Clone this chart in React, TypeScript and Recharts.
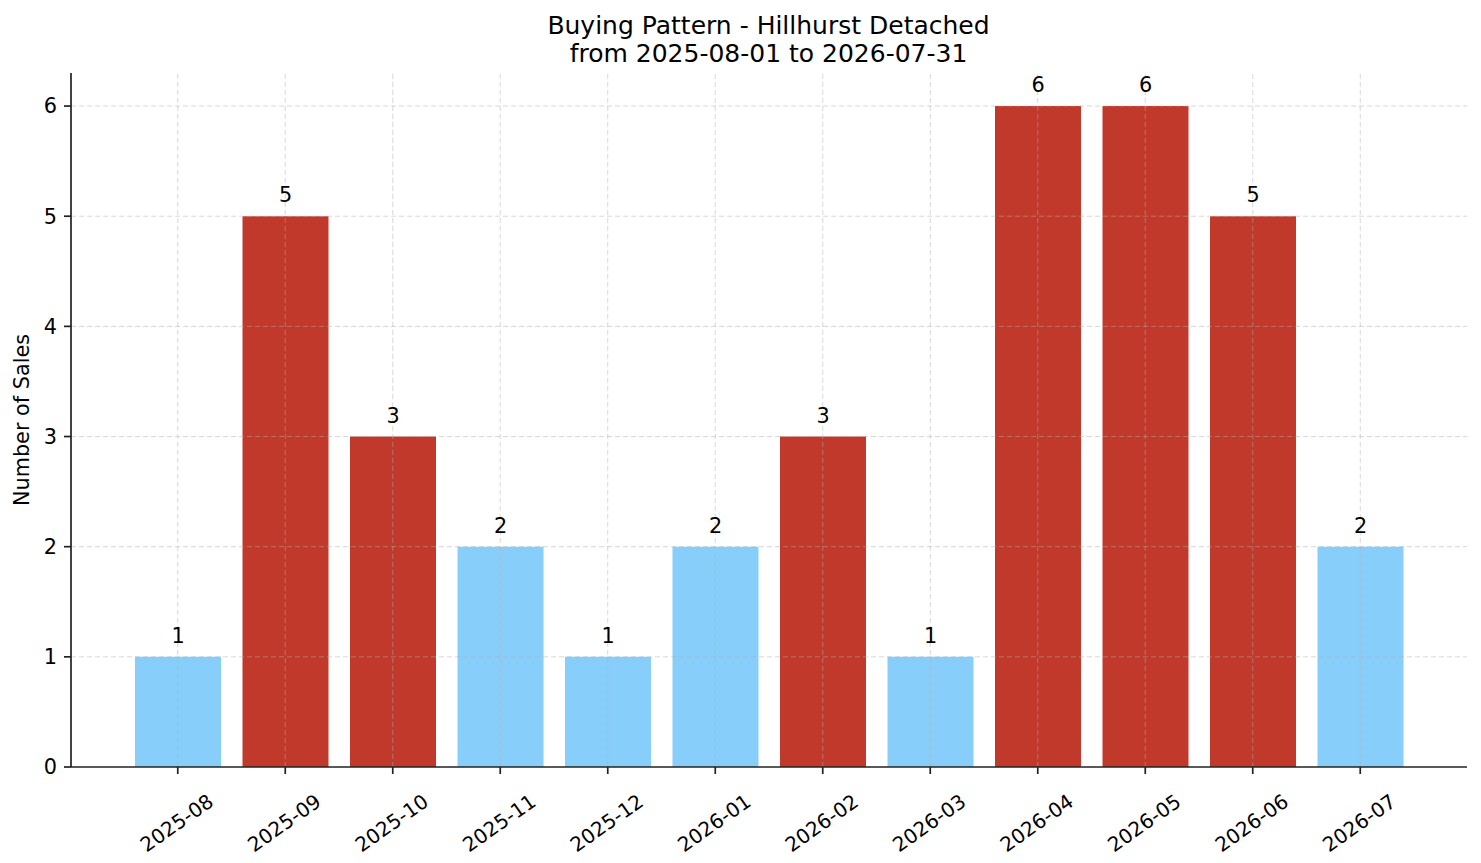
import React from 'react';
import { BarChart, Bar, XAxis, YAxis, ReferenceLine, LabelList, Cell, Label } from 'recharts';

const months = [
  '2025-08', '2025-09', '2025-10', '2025-11', '2025-12', '2026-01',
  '2026-02', '2026-03', '2026-04', '2026-05', '2026-06', '2026-07',
];
const sales = [1, 5, 3, 2, 1, 2, 3, 1, 6, 6, 5, 2];
const yTicks = [0, 1, 2, 3, 4, 5, 6];

const HIGH = 3;
const RED = '#c0392b';
const BLUE = '#87cefa';
const FONT = '"DejaVu Sans", sans-serif';

const data = months.map((m, i) => ({ month: m, sales: sales[i] }));

const gridStyle = { stroke: '#b0b0b0', strokeOpacity: 0.5, strokeDasharray: '5 3', strokeWidth: 1 };

const MonthTick = ({ x, y, payload }: any) => {
  const cx = x - 1;
  const cy = y + 47;
  return (
    <text
      x={cx}
      y={cy}
      textAnchor="middle"
      dominantBaseline="central"
      transform={`rotate(-35, ${cx}, ${cy})`}
      fontSize={20}
      fontFamily={FONT}
      fill="#000"
    >
      {payload.value}
    </text>
  );
};

const YTitle = ({ viewBox }: any) => {
  const cx = 22;
  const cy = viewBox.y + viewBox.height / 2;
  return (
    <text
      x={cx}
      y={cy}
      textAnchor="middle"
      dominantBaseline="central"
      transform={`rotate(-90, ${cx}, ${cy})`}
      fontSize={20.8}
      fontFamily={FONT}
      fill="#000"
    >
      Number of Sales
    </text>
  );
};

export default function App() {
  return (
    <div style={{ position: 'absolute', left: 0, top: 0, width: 1481, height: 863, background: '#fff' }}>
      <BarChart
        width={1481}
        height={863}
        data={data}
        margin={{ top: 73, right: 14, left: 11, bottom: 6 }}
        barSize={86}
      >
        <XAxis
          dataKey="month"
          padding={{ left: 53, right: 53 }}
          height={90}
          tickSize={7}
          tick={<MonthTick />}
          interval={0}
          axisLine={{ stroke: '#222', strokeWidth: 1.7 }}
          tickLine={{ stroke: '#222', strokeWidth: 1.7 }}
        />
        <YAxis
          width={60}
          domain={[0, 6.3]}
          ticks={yTicks}
          tickSize={7}
          tickMargin={7}
          allowDataOverflow
          tick={{ fontSize: 20.8, fontFamily: FONT, fill: '#000' }}
          axisLine={{ stroke: '#222', strokeWidth: 1.7 }}
          tickLine={{ stroke: '#222', strokeWidth: 1.7 }}
        >
          <Label content={<YTitle />} />
        </YAxis>
        <Bar dataKey="sales" isAnimationActive={false}>
          {data.map((d, i) => (
            <Cell key={i} fill={d.sales >= HIGH ? RED : BLUE} />
          ))}
          <LabelList
            dataKey="sales"
            position="top"
            offset={14}
            fontSize={20.8}
            fontFamily={FONT}
            fill="#000"
          />
        </Bar>
        {months.map((m) => (
          <ReferenceLine key={m} x={m} {...gridStyle} />
        ))}
        {yTicks.slice(1).map((v) => (
          <ReferenceLine key={v} y={v} {...gridStyle} />
        ))}
      </BarChart>
      <svg
        width={1481}
        height={80}
        style={{ position: 'absolute', left: 0, top: 0, pointerEvents: 'none' }}
      >
        <text x={768.5} y={34} textAnchor="middle" fontSize={25} fontFamily={FONT} fill="#000">
          Buying Pattern - Hillhurst Detached
        </text>
        <text x={768.5} y={62} textAnchor="middle" fontSize={25} fontFamily={FONT} fill="#000">
          from 2025-08-01 to 2026-07-31
        </text>
      </svg>
    </div>
  );
}
